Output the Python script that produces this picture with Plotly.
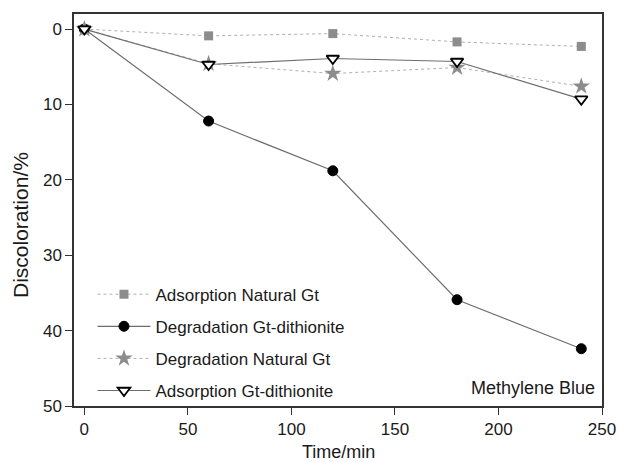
import plotly.graph_objects as go

time = [0, 60, 120, 180, 240]
ads_natural = [0, 0.9, 0.6, 1.7, 2.3]
deg_dithionite = [0, 12.2, 18.8, 35.9, 42.4]
deg_natural = [0, 4.6, 5.9, 5.1, 7.6]
ads_dithionite = [0, 4.7, 3.9, 4.3, 9.3]

series_names = ["Adsorption Natural Gt", "Degradation Gt-dithionite",
                "Degradation Natural Gt", "Adsorption Gt-dithionite"]
x_ticks = [0, 50, 100, 150, 200, 250]
y_ticks = [0, 10, 20, 30, 40, 50]

fig = go.Figure()
fig.add_trace(go.Scatter(x=time, y=ads_natural, name=series_names[0], mode="lines+markers",
                         legendgroup="a",
                         line=dict(color="#b0b0b0", width=1, dash="dot"),
                         marker=dict(symbol="square", size=9, color="#8c8c8c")))
fig.add_trace(go.Scatter(x=time, y=deg_dithionite, name=series_names[1], mode="lines+markers",
                         legendgroup="b",
                         line=dict(color="#6e6e6e", width=1.2),
                         marker=dict(symbol="circle", size=10, color="#000000",
                                     line=dict(color="#000000", width=1))))
fig.add_trace(go.Scatter(x=time, y=deg_natural, name=series_names[2], mode="lines+markers",
                         legendgroup="c",
                         line=dict(color="#b0b0b0", width=1, dash="dot"),
                         marker=dict(symbol="star", size=13, color="#8c8c8c")))
fig.add_trace(go.Scatter(x=time, y=ads_dithionite, name=series_names[3], mode="lines+markers",
                         legendgroup="d",
                         line=dict(color="#6e6e6e", width=1.2),
                         marker=dict(symbol="triangle-down", size=11, color="#ffffff",
                                     line=dict(color="#000000", width=1.8))))

font_family = "Liberation Sans, Arial, sans-serif"
fig.update_layout(
    width=619, height=463,
    margin=dict(l=74, r=17, t=14, b=57),
    paper_bgcolor="white", plot_bgcolor="white",
    font=dict(family=font_family, size=17, color="#1a1a1a"),
    showlegend=True,
    legend=dict(x=0.035, y=0.33, xanchor="left", yanchor="top",
                bgcolor="rgba(0,0,0,0)", font=dict(size=17), tracegroupgap=7,
                itemwidth=53),
    xaxis=dict(range=[-5, 250], tickvals=x_ticks,
               ticks="outside", ticklen=7, tickwidth=1.2, tickcolor="#333",
               showline=True, linecolor="#333", linewidth=1.5, mirror=True,
               showgrid=False, zeroline=False, automargin=False,
               ticklabeloverflow="allow",
               tickfont=dict(size=17)),
    yaxis=dict(range=[50, -2], tickvals=y_ticks,
               ticks="outside", ticklen=7, tickwidth=1.2, tickcolor="#333",
               showline=True, linecolor="#333", linewidth=1.5, mirror=True,
               showgrid=False, zeroline=False, automargin=False,
               tickfont=dict(size=17)),
    annotations=[
        dict(text="Methylene Blue", x=0.99, y=0.015, xref="paper", yref="paper",
             xanchor="right", yanchor="bottom", showarrow=False, font=dict(size=18)),
        dict(text="Time/min", x=0.5, y=0, xref="paper", yref="paper",
             xanchor="center", yanchor="top", yshift=-34, showarrow=False,
             font=dict(size=18)),
        dict(text="Discoloration/%", x=0, y=0.5, xref="paper", yref="paper",
             xanchor="center", yanchor="middle", xshift=-54, yshift=-15,
             textangle=-90, showarrow=False, font=dict(size=21)),
    ],
)

fig.write_html("out.html",
               config={"displayModeBar": False},
               post_script="document.body.style.margin='0';"
                           "document.documentElement.style.overflow='hidden';")
